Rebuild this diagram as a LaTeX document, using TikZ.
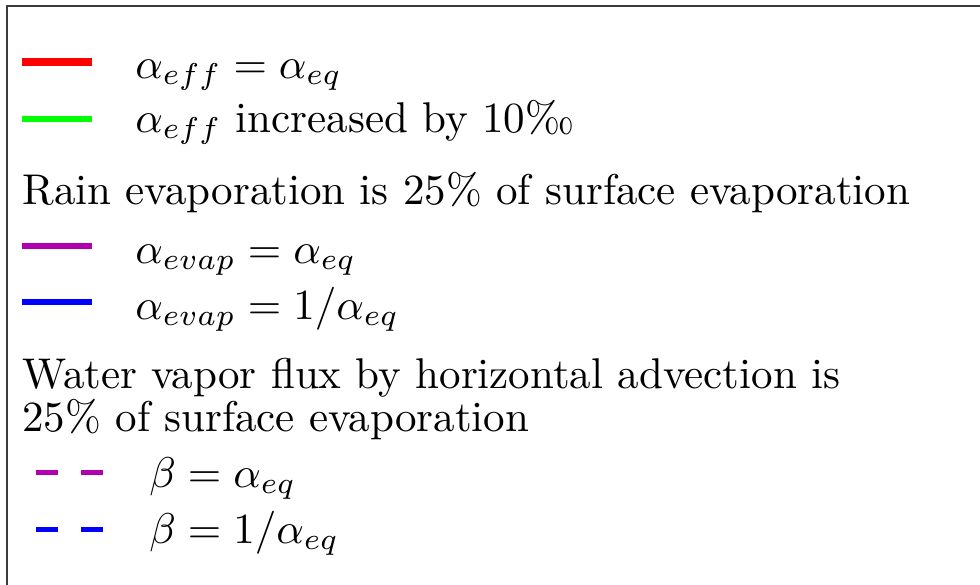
\documentclass[tikz,border=0pt]{standalone}
\usepackage{graphicx}
\usepackage{xcolor}
\usepackage{tikz}
\definecolor{LgFrame}{HTML}{3A3A3A}
\definecolor{LgRed}{HTML}{FF0000}
\definecolor{LgGreen}{HTML}{00FF00}
\definecolor{LgMagenta}{HTML}{B000B0}
\definecolor{LgBlue}{HTML}{0000FF}
\newcommand{\lgbig}[1]{\scalebox{2.15}{#1}}
\tikzset{
  lgtext/.style={anchor=base west,inner sep=0pt,font=\fontsize{10}{10}\selectfont},
  lghandle/.style={line width=3pt},
  lgdash/.style={line width=2.5pt}
}
\begin{document}
\begin{tikzpicture}[x=0.5pt,y=-0.5pt]
\path[use as bounding box] (0,0) rectangle (980,584);
\draw[LgFrame,line width=1pt] (7,600) -- (7,6) -- (1000,6);
% solid handles
\draw[LgRed,line width=3.6pt] (22,62) -- (92,62);
\node[lgtext] (effeq) at (135,78) {\lgbig{$\alpha_{eff} = \alpha_{eq}$}};
\draw[LgGreen,lghandle] (22,119) -- (92,119);
\node[lgtext] (effinc) at (135,132) {\lgbig{$\alpha_{eff}$ increased by 10\textperthousand}};
\node[lgtext] (rainhead) at (22,204) {\lgbig{Rain evaporation is 25\% of surface evaporation}};
\draw[LgMagenta,lghandle] (22,246) -- (92,246);
\node[lgtext] (evapeq) at (135,263) {\lgbig{$\alpha_{evap} = \alpha_{eq}$}};
\draw[LgBlue,lghandle] (22,302) -- (92,302);
\node[lgtext] (evapinv) at (135,319) {\lgbig{$\alpha_{evap} = 1/\alpha_{eq}$}};
\node[lgtext] (advhead) at (22,431) {\lgbig{\vbox{\hbox{Water vapor flux by horizontal advection is}\hbox{25\% of surface evaporation}}}};
% dashed handles
\draw[LgMagenta,lgdash] (36,472) -- (58,472) (81,472) -- (103,472);
\node[lgtext] (betaeq) at (149,487) {\lgbig{$\beta = \alpha_{eq}$}};
\draw[LgBlue,lgdash] (36,529) -- (58,529) (81,529) -- (103,529);
\node[lgtext] (betainv) at (149,543) {\lgbig{$\beta = 1/\alpha_{eq}$}};
\end{tikzpicture}
\end{document}
